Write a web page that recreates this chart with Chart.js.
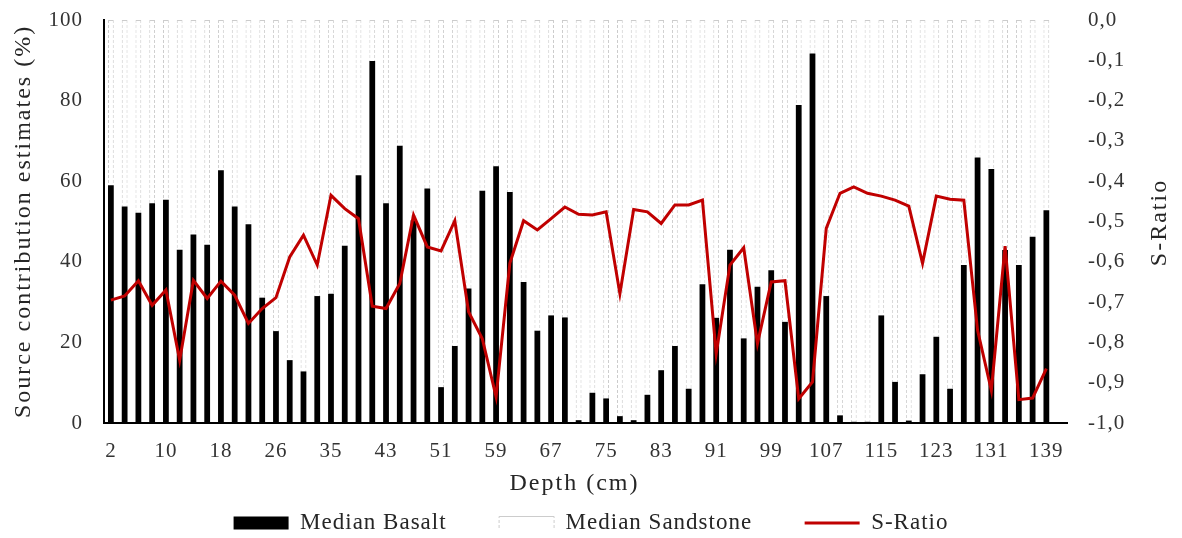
<!DOCTYPE html>
<html>
<head>
<meta charset="utf-8">
<script src="https://cdn.jsdelivr.net/npm/chart.js@4"></script>
<style>
  html, body { margin: 0; padding: 0; background: #fff; }
  #wrap { width: 1182px; height: 538px; }
</style>
</head>
<body>
<div id="wrap"><canvas id="sourceChart" width="1182" height="538"></canvas></div>
<script>
// depth of each slice (cm), only every 4th is labelled on the axis
const depths = [2, 4, 6, 8, 10, 12, 14, 16, 18, 20, 22, 24, 26, 28, 31, 33, 35, 37, 39, 41,
  43, 45, 47, 49, 51, 53, 55, 57, 59, 61, 63, 65, 67, 69, 71, 73, 75, 77, 79, 81,
  83, 85, 87, 89, 91, 93, 95, 97, 99, 101, 103, 105, 107, 109, 111, 113, 115, 117, 119, 121,
  123, 125, 127, 129, 131, 133, 135, 137, 139, 141];

const basalt = [59, 53.7, 52.2, 54.5, 55.4, 43, 46.8, 44.2, 62.7, 53.7,
  49.3, 31.1, 22.8, 15.6, 12.8, 31.5, 32.1, 44, 61.5, 89.8,
  54.5, 68.8, 50.3, 58.2, 8.9, 19.1, 33.4, 57.6, 63.7, 57.3,
  35, 22.9, 26.7, 26.2, 0.7, 7.5, 6.1, 1.7, 0.7, 7,
  13.1, 19.1, 8.5, 34.4, 26.1, 43, 21, 33.8, 37.9, 25.1,
  78.9, 91.7, 31.5, 1.9, 0.3, 0.3, 26.7, 10.2, 0.6, 12.1,
  21.4, 8.5, 39.2, 65.9, 63, 42.9, 39.2, 46.2, 52.8, null];

const sandstone = [41, 46.3, 47.8, 45.5, 44.6, 57, 53.2, 55.8, 37.3, 46.3,
  50.7, 68.9, 77.2, 84.4, 87.2, 68.5, 67.9, 56, 38.5, 10.2,
  45.5, 31.2, 49.7, 41.8, 91.1, 80.9, 66.6, 42.4, 36.3, 42.7,
  65, 77.1, 73.3, 73.8, 99.3, 92.5, 93.9, 98.3, 99.3, 93,
  86.9, 80.9, 91.5, 65.6, 73.9, 57, 79, 66.2, 62.1, 74.9,
  21.1, 8.3, 68.5, 98.1, 99.7, 99.7, 73.3, 89.8, 99.4, 87.9,
  78.6, 91.5, 60.8, 34.1, 37, 57.1, 60.8, 53.8, 47.2, null];

const sRatio = [-0.695, -0.685, -0.647, -0.708, -0.670, -0.844, -0.646, -0.691, -0.648, -0.683,
  -0.753, -0.716, -0.689, -0.588, -0.534, -0.608, -0.435, -0.468, -0.493, -0.710,
  -0.716, -0.654, -0.484, -0.563, -0.573, -0.498, -0.724, -0.791, -0.935, -0.604,
  -0.498, -0.521, -0.493, -0.464, -0.482, -0.484, -0.476, -0.679, -0.470, -0.476,
  -0.505, -0.459, -0.459, -0.447, -0.828, -0.608, -0.565, -0.803, -0.650, -0.647,
  -0.940, -0.898, -0.517, -0.430, -0.414, -0.430, -0.437, -0.447, -0.462, -0.604,
  -0.437, -0.445, -0.447, -0.770, -0.919, -0.561, -0.942, -0.938, -0.865, null];

const leftTicks = [0, 20, 40, 60, 80, 100];

const SERIF = "'Liberation Serif', 'Times New Roman', serif";

// light grey dashes for the sandstone outline
function dashPattern() {
  const c = document.createElement('canvas');
  c.width = 1;
  c.height = 5;
  const g = c.getContext('2d');
  g.fillStyle = '#ffffff';
  g.fillRect(0, 0, 1, 5);
  g.fillStyle = '#cccccc';
  g.fillRect(0, 0, 1, 3);
  return g.createPattern(c, 'repeat');
}

// Excel's text is a bit wider than plain Times, so space the letters out
const spacing = {
  id: 'spacing',
  beforeUpdate(chart) { chart.ctx.letterSpacing = '1px'; },
  beforeLayout(chart) { chart.ctx.letterSpacing = '1px'; },
  beforeDraw(chart) { chart.ctx.letterSpacing = '1px'; }
};

// axis titles, the right one reads bottom to top like the original
const axisTitles = {
  id: 'axisTitles',
  afterDraw(chart) {
    const ctx = chart.ctx;
    const area = chart.chartArea;
    const midY = (area.top + area.bottom) / 2;
    ctx.save();
    ctx.letterSpacing = '2px';
    ctx.fillStyle = '#262626';
    ctx.font = '24px ' + SERIF;
    ctx.textAlign = 'center';
    ctx.textBaseline = 'middle';

    ctx.fillText('Depth (cm)', (area.left + area.right) / 2 - 11, 484);

    ctx.save();
    ctx.translate(24, midY);
    ctx.rotate(-Math.PI / 2);
    ctx.fillText('Source contribution estimates (%)', 0, 0);
    ctx.restore();

    ctx.save();
    ctx.translate(1160, midY + 1);
    ctx.rotate(-Math.PI / 2);
    ctx.fillText('S-Ratio', 0, 0);
    ctx.restore();

    ctx.restore();
  }
};

const ctx = document.getElementById('sourceChart').getContext('2d');
const sourceChart = new Chart(ctx, {
  type: 'bar',
  data: {
    labels: depths,
    datasets: [{
      label: 'Median Basalt',
      data: basalt,
      backgroundColor: '#000000',
      borderWidth: 0,
      pointStyle: 'rect',
      order: 1,
      yAxisID: 'y'
    }, {
      label: 'Median Sandstone',
      data: sandstone,
      backgroundColor: '#ffffff',
      borderColor: dashPattern(),
      borderWidth: 1,
      pointStyle: 'rect',
      order: 1,
      yAxisID: 'y'
    }, {
      type: 'line',
      label: 'S-Ratio',
      data: sRatio,
      borderColor: '#c00000',
      backgroundColor: '#c00000',
      borderWidth: 3,
      pointRadius: 0,
      pointStyle: 'line',
      tension: 0,
      order: 0,
      yAxisID: 'y1'
    }]
  },
  options: {
    responsive: false,
    animation: false,
    layout: {
      padding: { top: 20, left: 0, right: 0, bottom: -6.5 }
    },
    datasets: {
      bar: { categoryPercentage: 1, barPercentage: 0.42 }
    },
    scales: {
      x: {
        stacked: true,
        // hidden tick marks only keep the labels away from the axis
        grid: { display: false, drawTicks: true, tickLength: 10 },
        border: { display: true, color: '#000000', width: 2 },
        ticks: {
          autoSkip: false,
          maxRotation: 0,
          padding: 6,
          color: '#333333',
          font: { family: SERIF, size: 21 },
          callback: (val, i) => (i % 4 === 0 ? depths[i] : '')
        },
        afterFit: (scale) => { scale.height = 36; }
      },
      y: {
        stacked: true,
        position: 'left',
        min: 0,
        max: 100,
        afterBuildTicks: (scale) => { scale.ticks = leftTicks.map(v => ({ value: v })); },
        grid: { display: false, drawTicks: true, tickLength: 15 },
        border: { display: true, color: '#000000', width: 2 },
        ticks: {
          padding: 6,
          color: '#333333',
          font: { family: SERIF, size: 21 }
        },
        afterFit: (scale) => { scale.width = 104; }
      },
      y1: {
        position: 'right',
        min: -1,
        max: 0,
        grid: { display: false, drawTicks: true, tickLength: 15 },
        border: { display: false },
        ticks: {
          stepSize: 0.1,
          padding: 6,
          color: '#333333',
          font: { family: SERIF, size: 21 },
          callback: (v) => v.toFixed(1).replace('.', ',')
        },
        afterFit: (scale) => { scale.width = 115; }
      }
    },
    plugins: {
      legend: {
        position: 'bottom',
        labels: {
          usePointStyle: true,
          pointStyleWidth: 55,
          boxHeight: 13,
          padding: 52.5,
          color: '#262626',
          font: { family: SERIF, size: 23 },
          sort: (a, b) => a.datasetIndex - b.datasetIndex
        }
      },
      tooltip: { enabled: false }
    }
  },
  plugins: [spacing, axisTitles]
});
</script>
</body>
</html>
